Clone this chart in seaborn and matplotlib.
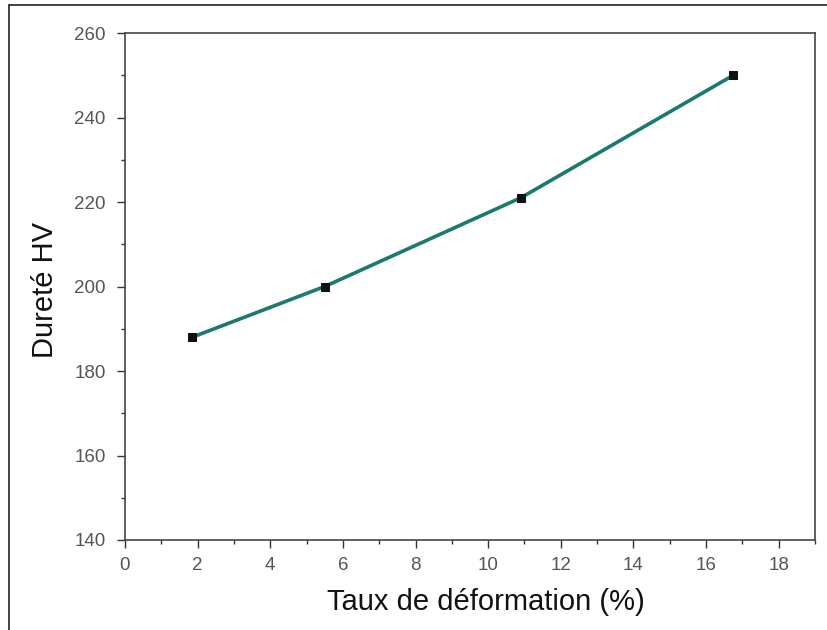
import matplotlib
matplotlib.use("Agg")
import matplotlib.pyplot as plt
import seaborn as sns
import pandas as pd
from matplotlib.ticker import MultipleLocator
from matplotlib.lines import Line2D

strain = [1.85, 5.5, 10.9, 16.75]
hardness = [188, 200, 221, 250]

sns.set_style("ticks")
plt.rcParams['font.family'] = ['Liberation Sans', 'DejaVu Sans']

df = pd.DataFrame({"x": strain, "y": hardness})
fig = plt.figure(figsize=(8.27, 6.3), dpi=100)
ax = fig.add_axes([125/827, 1-540/630, (815-125)/827, (540-33)/630])
sns.lineplot(data=df, x="x", y="y", ax=ax, color="#1b7a6e", linewidth=2.6,
             marker="s", markersize=6, markerfacecolor="#111111", markeredgecolor="#111111")
ax.set_xlim(0, 19)
ax.set_ylim(140, 260)
ax.xaxis.set_major_locator(MultipleLocator(2))
ax.xaxis.set_minor_locator(MultipleLocator(1))
ax.yaxis.set_major_locator(MultipleLocator(20))
ax.yaxis.set_minor_locator(MultipleLocator(10))
ax.tick_params(which="major", direction="out", length=6, width=1, colors="#333333",
               labelsize=13.5, labelcolor="#555555")
ax.tick_params(axis="y", which="major", pad=8)
ax.tick_params(axis="x", which="major", pad=6)
ax.tick_params(which="minor", direction="out", length=3, width=1, colors="#333333")
for s in ax.spines.values():
    s.set_visible(True)
    s.set_color("#444444")
    s.set_linewidth(1.2)
ax.set_xlabel("Taux de déformation (%)", fontsize=21, color="#111111")
ax.set_ylabel("Dureté HV", fontsize=21, color="#111111")
ax.xaxis.set_label_coords((486-125)/690, -(602-540)/507, transform=ax.transAxes)
ax.yaxis.set_label_coords(-(125-45)/690, (540-290)/507, transform=ax.transAxes)
ax.xaxis.label.set_va("center")
ax.yaxis.label.set_va("center")
x0, y1 = 9/827, 1-5/630
fig.lines.append(Line2D([x0, x0], [0, y1], transform=fig.transFigure, color="#222222", linewidth=1.2))
fig.lines.append(Line2D([x0, 1], [y1, y1], transform=fig.transFigure, color="#222222", linewidth=1.2))
fig.savefig("out.png", dpi=100)
